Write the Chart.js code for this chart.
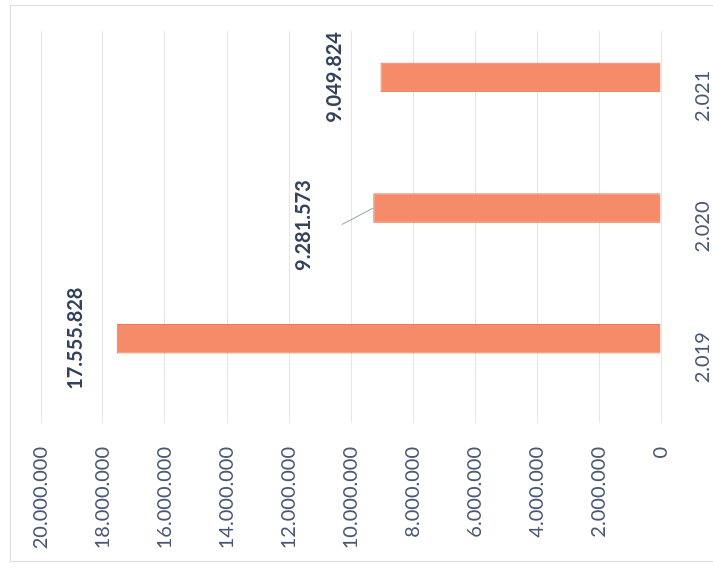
<!DOCTYPE html>
<html>
<head>
<meta charset="utf-8">
<script src="https://cdn.jsdelivr.net/npm/chart.js@4"></script>
<style>
    html, body { margin: 0; padding: 0; background: #ffffff; }
    #page { position: relative; width: 713px; height: 573px; overflow: hidden; background: #ffffff; }
    #frame { position: absolute; left: 10px; top: 5px; width: 720px; height: 557px; border: 1px solid #dedede; box-sizing: border-box; }
    /* the chart is drawn upright, then turned a quarter turn to the left like the scan */
    #turn { position: absolute; left: 0; top: 0; width: 573px; height: 713px;
            transform-origin: 0 0; transform: translate(0, 573px) rotate(-90deg); }
</style>
</head>
<body>
<div id="page">
    <div id="frame"></div>
    <div id="turn"><canvas id="chart" width="573" height="713"></canvas></div>
</div>
<script>
// --------------------------------------------------------------------
// DATA
// --------------------------------------------------------------------
const categories = ["2.019", "2.020", "2.021"];
const values = [17555828, 9281573, 9049824];
const emptySeries = [null, null, null];   // second (empty) series, keeps the bars off-centre
const valueTicks = [0, 2000000, 4000000, 6000000, 8000000, 10000000,
                    12000000, 14000000, 16000000, 18000000, 20000000];

// thousands with dots, like the original
function fmt(n) {
    return String(Math.round(n)).replace(/\B(?=(\d{3})+(?!\d))/g, ".");
}

const FONT = "Lato, 'Open Sans', sans-serif";

// --------------------------------------------------------------------
// DATA LABELS (+ leader line for the moved one)
// --------------------------------------------------------------------
const barLabels = {
    id: "barLabels",
    afterDatasetsDraw(chart, args, opts) {
        const ctx = chart.ctx;
        const meta = chart.getDatasetMeta(1);
        ctx.save();
        ctx.font = "bold 20px " + FONT;
        ctx.fillStyle = "#34425c";
        ctx.textAlign = "center";
        ctx.textBaseline = "middle";
        meta.data.forEach((bar, i) => {
            const off = opts.offsets[i];
            const lx = bar.x + off[0];
            const ly = bar.y + off[1];
            if (opts.leader[i]) {
                ctx.strokeStyle = "#8d9bb3";
                ctx.lineWidth = 1;
                ctx.beginPath();
                ctx.moveTo(lx + 1, ly + 38);
                ctx.lineTo(bar.x, bar.y);
                ctx.stroke();
            }
            ctx.fillText(fmt(values[i]), lx, ly);
        });
        ctx.restore();
    }
};

// --------------------------------------------------------------------
// CHART
// --------------------------------------------------------------------
new Chart(document.getElementById("chart").getContext("2d"), {
    type: "bar",
    data: {
        labels: categories,
        datasets: [
            {
                label: "",
                data: emptySeries,
                backgroundColor: "#f58b69"
            },
            {
                label: "Valor",
                data: values,
                backgroundColor: "#f58b69",
                borderColor: "#e57452",
                borderWidth: 1,
                categoryPercentage: 0.58,
                barPercentage: 0.78
            }
        ]
    },
    options: {
        responsive: false,
        animation: false,
        layout: { padding: { top: 41, right: 31, left: 0, bottom: 0 } },
        datasets: { bar: { categoryPercentage: 0.58, barPercentage: 0.78 } },
        plugins: {
            legend: { display: false },
            tooltip: { enabled: false },
            barLabels: {
                offsets: [[0, -41], [-17.5, -69.5], [0, -46]],
                leader: [false, true, false]
            }
        },
        scales: {
            x: {
                grid: { display: false },
                border: { display: false },
                ticks: {
                    color: "#4a5873",
                    font: { family: FONT, size: 20 },
                    padding: 22
                },
                afterFit: s => { s.height = 52; }
            },
            y: {
                min: 0,
                max: 20000000,
                afterBuildTicks: s => { s.ticks = valueTicks.map(v => ({ value: v })); },
                grid: { color: "#e6e6e6", lineWidth: 1, drawTicks: false },
                border: { display: false },
                ticks: {
                    color: "#4a5873",
                    font: { family: FONT, size: 20 },
                    padding: 24,
                    callback: v => fmt(v)
                },
                afterFit: s => { s.width = 150; }
            }
        }
    },
    plugins: [barLabels]
});
</script>
</body>
</html>
